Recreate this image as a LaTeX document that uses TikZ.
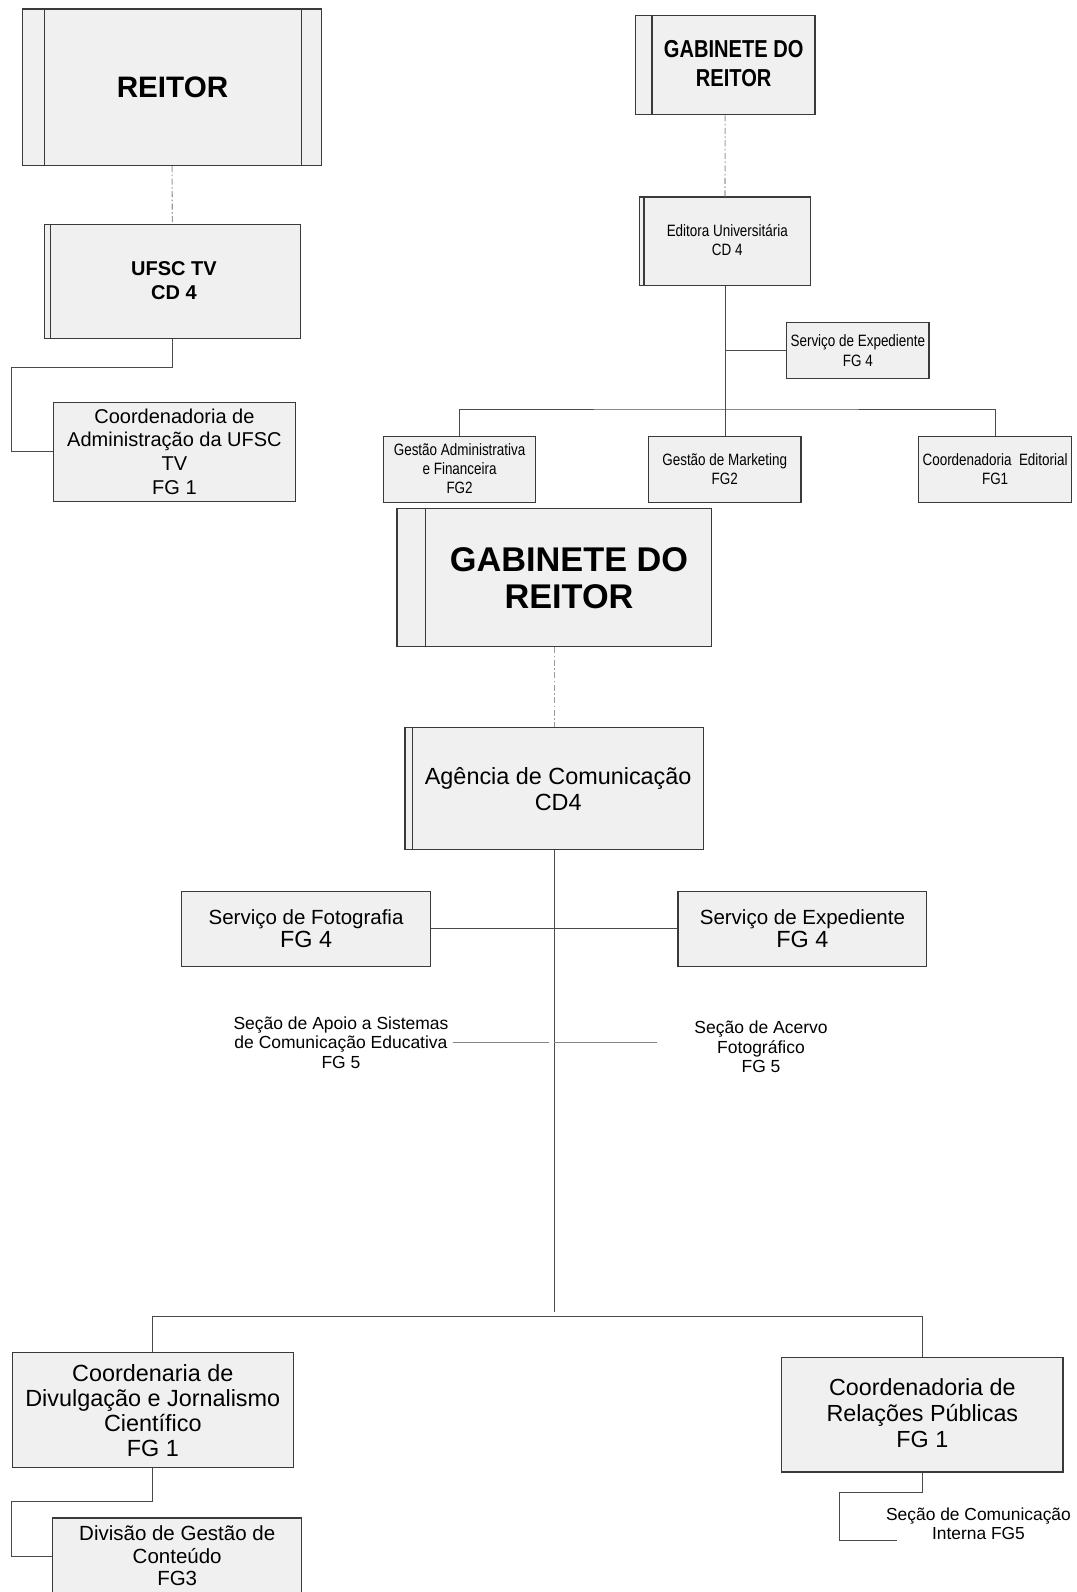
\documentclass[tikz,border=0pt]{standalone}
\usepackage{fontspec}
\setmainfont{Liberation Sans}
\newfontfamily\narrowfont[FakeStretch=0.82]{Liberation Sans}
\usetikzlibrary{calc}

\definecolor{boxfill}{HTML}{F0F0F0}
\definecolor{boxline}{HTML}{3A3A3A}
\definecolor{wirecol}{HTML}{4A4A4A}
\definecolor{seccol}{HTML}{858585}
\definecolor{dashcol}{HTML}{9A9A9A}

\newcommand{\fsz}[2]{\fontsize{#1}{#2}\selectfont}

\tikzset{
  box/.style={draw=boxline, fill=boxfill, line width=1.2pt, inner sep=0pt},
  strip/.style={draw=boxline, line width=1.2pt},
  txt/.style={align=center, inner sep=4pt, text=black},
  wire/.style={draw=wirecol, line width=1pt},
  seclink/.style={draw=seccol, line width=1.5pt},
  dotdash/.style={draw=dashcol, line width=1.1pt, dash pattern=on 6pt off 2.5pt on 1.5pt off 2.5pt}
}

\begin{document}
\begin{tikzpicture}[x=1pt, y=-1pt]
\useasboundingbox[fill=white] (0,0) rectangle (1076,1592);

% ---------- Reitor / UFSC TV ----------
\node[box, minimum width=299.5pt, minimum height=156.4pt] (reitor) at (172.05,87.3) {};
\draw[strip] ([xshift=22.4pt]reitor.north west) -- ([xshift=22.4pt]reitor.south west);
\draw[strip] ([xshift=-21.3pt]reitor.north east) -- ([xshift=-21.3pt]reitor.south east);
\node[txt, font=\fsz{29.6}{34}\bfseries] (reitorT) at (172.5,87) {REITOR};

\node[box, minimum width=255.7pt, minimum height=113.9pt] (ufsctv) at (172.35,281.25) {};
\draw[strip] ([xshift=6.3pt]ufsctv.north west) -- ([xshift=6.3pt]ufsctv.south west);
\node[txt, font=\fsz{20}{24}\bfseries] (ufsctvT) at (174,281) {UFSC TV\\CD 4};

\node[box, minimum width=241.9pt, minimum height=99.4pt] (coordadm) at (174.45,451.9) {};
\node[txt, font=\fsz{20}{23.6}] (coordadmT) at (174.45,451.5) {Coordenadoria de\\Administração da UFSC\\TV\\FG 1};

\draw[dotdash] (reitor.south) -- (ufsctv.north);
\coordinate (c1) at (11,367);
\draw[wire] (ufsctv.south) |- (c1) |- (coordadm.west);

% ---------- Gabinete do Reitor / Editora ----------
\node[box, minimum width=179.7pt, minimum height=99.6pt] (gabs) at (725.15,65) {};
\draw[strip] ([xshift=17.2pt]gabs.north west) -- ([xshift=17.2pt]gabs.south west);
\node[txt, font=\narrowfont\fsz{24.5}{29}\bfseries] (gabsT) at (733.7,64) {GABINETE DO\\REITOR};

\node[box, minimum width=171pt, minimum height=88.5pt] (edit) at (725,241.25) {};
\draw[strip] ([xshift=5pt]edit.north west) -- ([xshift=5pt]edit.south west);
\node[txt, font=\narrowfont\fsz{16.4}{19}] (editT) at (727.3,240.5) {Editora Universitária\\CD 4};

\node[box, minimum width=142.3pt, minimum height=55.8pt] (servexps) at (857.85,350.6) {};
\node[txt, font=\narrowfont\fsz{16.4}{19.5}] (servexpsT) at (857.85,350.6) {Serviço de Expediente\\FG 4};

\node[box, minimum width=151.8pt, minimum height=66pt] (gadm) at (459.6,469.5) {};
\node[txt, font=\narrowfont\fsz{16.4}{19}] (gadmT) at (459.6,468.5) {Gestão Administrativa\\e Financeira\\FG2};

\node[box, minimum width=152.3pt, minimum height=66pt] (gmkt) at (724.75,469.5) {};
\node[txt, font=\narrowfont\fsz{16.4}{19}] (gmktT) at (724.75,469.5) {Gestão de Marketing\\FG2};

\node[box, minimum width=152.8pt, minimum height=66pt] (cedit) at (995.1,469.5) {};
\node[txt, font=\narrowfont\fsz{16.4}{19}] (ceditT) at (995.1,469.5) {Coordenadoria\ \ Editorial\\FG1};

\draw[dotdash] (gabs.south) -- (edit.north);
\draw[wire] (edit.south) -- (edit.south |- gmkt.north);
\draw[wire] (edit.south |- servexps.west) -- (servexps.west);
\coordinate (ebus) at (725,409);
\draw[wire] (gadm.north) |- (ebus) -| (cedit.north);

% ---------- Gabinete do Reitor / Agencia de Comunicacao ----------
\node[box, minimum width=314.7pt, minimum height=138pt] (gabb) at (554.25,577.6) {};
\draw[strip] ([xshift=29.4pt]gabb.north west) -- ([xshift=29.4pt]gabb.south west);
\node[txt, font=\fsz{34.3}{37}\bfseries] (gabbT) at (569,578) {GABINETE DO\\REITOR};

\node[box, minimum width=298.5pt, minimum height=122.1pt] (agen) at (554.25,788.75) {};
\draw[strip] ([xshift=8pt]agen.north west) -- ([xshift=8pt]agen.south west);
\node[txt, font=\fsz{23.4}{25.5}] (agenT) at (558.2,789) {Agência de Comunicação\\CD4};

\draw[dotdash] (gabb.south) -- (agen.north);

\node[box, minimum width=248.7pt, minimum height=75.1pt] (servfoto) at (306.05,928.85) {};
\node[txt, font=\fsz{20.5}{23.4}] (servfotoT) at (306.05,928.5) {Serviço de Fotografia\\{\fsz{23.4}{23.4}FG 4}};

\node[box, minimum width=248.8pt, minimum height=75.1pt] (servexpb) at (802.4,928.85) {};
\node[txt, font=\fsz{20.5}{23.4}] (servexpbT) at (802.4,928.5) {Serviço de Expediente\\{\fsz{23.4}{23.4}FG 4}};

\draw[wire] (servfoto.east) -- (servexpb.west);

\node[txt, font=\fsz{17.5}{19.4}] (apoio) at (341,1042.5) {Seção de Apoio a Sistemas\\de Comunicação Educativa\\FG 5};
\node[txt, font=\fsz{17.5}{19.4}] (acervo) at (761,1047) {Seção de Acervo\\Fotográfico\\FG 5};

\coordinate (mend) at (554.25,1312.3);
\draw[wire] (agen.south) -- (mend);
\coordinate (apoioEnd) at (549,1042.5);
\coordinate (acervoEnd) at (657.3,1042.5);
\draw[seclink] (apoio.east) -- (apoioEnd);
\draw[seclink] (agen.south |- acervoEnd) -- (acervoEnd);

% ---------- Coordenadorias ----------
\node[box, minimum width=281.2pt, minimum height=115pt] (coorddiv) at (152.8,1410.3) {};
\node[txt, font=\fsz{23.4}{25}] (coorddivT) at (152.8,1410.3) {Coordenaria de\\Divulgação e Jornalismo\\Científico\\FG 1};

\node[box, minimum width=249pt, minimum height=76pt] (divgest) at (177.2,1556) {};
\node[txt, font=\fsz{20.5}{22.5}] (divgestT) at (177.2,1556) {Divisão de Gestão de\\Conteúdo\\FG3};

\node[box, minimum width=281.3pt, minimum height=114.7pt] (corp) at (922.35,1414.65) {};
\node[txt, font=\fsz{23.3}{26}] (corpT) at (922.35,1413) {Coordenadoria de\\Relações Públicas\\FG 1};

\coordinate (mbus) at (554.25,1316);
\draw[wire] (coorddiv.north) |- (mbus) -| (corp.north);

\coordinate (c2) at (11.7,1501.7);
\draw[wire] (coorddiv.south) |- (c2) |- (divgest.west);

\coordinate (c3) at (839,1492.7);
\coordinate (c4) at (896.7,1540);
\draw[wire] (corp.south) |- (c3) |- (c4);
\node[txt, font=\fsz{17.4}{19.3}] (seccom) at (978.5,1523.5) {Seção de Comunicação\\Interna FG5};

\end{tikzpicture}
\end{document}
